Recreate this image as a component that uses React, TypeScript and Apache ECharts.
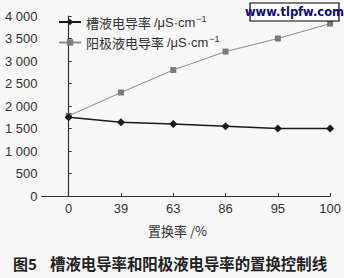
import React, { useEffect, useRef } from "react";
import * as echarts from "echarts";

const categories = ["0", "39", "63", "86", "95", "100"];
const bathConductivity = [1750, 1640, 1600, 1550, 1500, 1500];
const anodeConductivity = [1780, 2300, 2800, 3210, 3500, 3830];
const yTicks = [0, 500, 1000, 1500, 2000, 2500, 3000, 3500, 4000];

const seriesNames = ["槽液电导率", "阳极液电导率"];

function fmtThousands(v: number): string {
  if (v >= 1000) {
    return `${Math.floor(v / 1000)} ${String(v % 1000).padStart(3, "0")}`;
  }
  return String(v);
}

export default function App() {
  const ref = useRef<HTMLDivElement>(null);
  useEffect(() => {
    document.body.style.margin = "0";
    const chart = echarts.init(ref.current!, null, { renderer: "svg" });
    const idx = categories.map((_, i) => i);
    chart.setOption({
      animation: false,
      backgroundColor: "#f7f7f7",
      textStyle: { fontFamily: "'Liberation Sans', Arial, sans-serif" },
      grid: { left: 41.5, right: 12, top: 16, bottom: 82, containLabel: false },
      legend: {
        orient: "vertical",
        left: 53,
        top: 9,
        itemGap: 6,
        itemWidth: 22,
        itemHeight: 8,
        data: seriesNames,
        formatter: (name: string) => `${name} {u|/μS·cm}{sup|−1}`,
        textStyle: {
          color: "#333",
          fontSize: 13,
          fontFamily: "'Noto Sans CJK SC', sans-serif",
          rich: {
            u: {
              fontSize: 13,
              color: "#333",
              fontFamily: "'Liberation Sans', sans-serif",
            },
            sup: {
              fontSize: 9,
              color: "#333",
              verticalAlign: "top",
              padding: [0, 0, 7, 1],
              fontFamily: "'Liberation Sans', sans-serif",
            },
          },
        },
      },
      xAxis: {
        type: "value",
        min: -0.52,
        max: 5,
        splitLine: { show: false },
        axisLine: { show: true, lineStyle: { color: "#333", width: 1.2 } },
        axisTick: {
          show: true,
          inside: true,
          length: 3,
          customValues: idx,
          lineStyle: { color: "#333" },
        },
        axisLabel: {
          customValues: idx,
          formatter: (v: number) => categories[Math.round(v)] ?? "",
          color: "#333",
          fontSize: 13,
          margin: 6,
        },
      },
      yAxis: {
        type: "value",
        min: 0,
        max: 4000,
        interval: 500,
        splitLine: { show: false },
        axisLine: { show: true, lineStyle: { color: "#333", width: 1.2 } },
        axisTick: { show: true, inside: true, length: 3, lineStyle: { color: "#333" } },
        axisLabel: {
          customValues: yTicks,
          formatter: (v: number) => fmtThousands(v),
          color: "#333",
          fontSize: 13,
          margin: 4,
        },
      },
      graphic: [
        {
          type: "rect",
          shape: { x: 250, y: 3, width: 89, height: 18 },
          style: { fill: "#ffffff", stroke: "#000", lineWidth: 1.2 },
          z: 100,
        },
        {
          type: "text",
          x: 294.5,
          y: 12,
          style: {
            text: "www.tlpfw.com",
            fill: "#0a0a80",
            font: "bold 11.5px 'DejaVu Sans', Verdana, sans-serif",
            align: "center",
            verticalAlign: "middle",
          },
          z: 101,
        },
        {
          type: "text",
          x: 148,
          y: 230,
          style: {
            text: "置换率 /%",
            fill: "#333",
            font: "13px 'Noto Sans CJK SC', sans-serif",
            verticalAlign: "middle",
          },
        },
        {
          type: "text",
          x: 13,
          y: 263,
          style: {
            text: "图5",
            fill: "#222",
            font: "bold 15px 'Noto Sans CJK SC', sans-serif",
            verticalAlign: "middle",
          },
        },
        {
          type: "text",
          x: 50,
          y: 263,
          style: {
            text: "槽液电导率和阳极液电导率的置换控制线",
            fill: "#222",
            font: "bold 15.4px 'Noto Sans CJK SC', sans-serif",
            verticalAlign: "middle",
          },
        },
      ],
      series: [
        {
          name: seriesNames[0],
          type: "line",
          data: bathConductivity.map((v, i) => [i, v]),
          symbol: "diamond",
          symbolSize: 8,
          lineStyle: { color: "#1a1a1a", width: 1.5 },
          itemStyle: { color: "#1a1a1a" },
          z: 3,
        },
        {
          name: seriesNames[1],
          type: "line",
          data: anodeConductivity.map((v, i) => [i, v]),
          symbol: "rect",
          symbolSize: 6,
          lineStyle: { color: "#8a8a8a", width: 1 },
          itemStyle: { color: "#7a7a7a" },
          z: 2,
        },
      ],
    });
    return () => chart.dispose();
  }, []);
  return (
    <div
      ref={ref}
      style={{ position: "fixed", left: 0, top: 0, width: 344, height: 278 }}
    />
  );
}
